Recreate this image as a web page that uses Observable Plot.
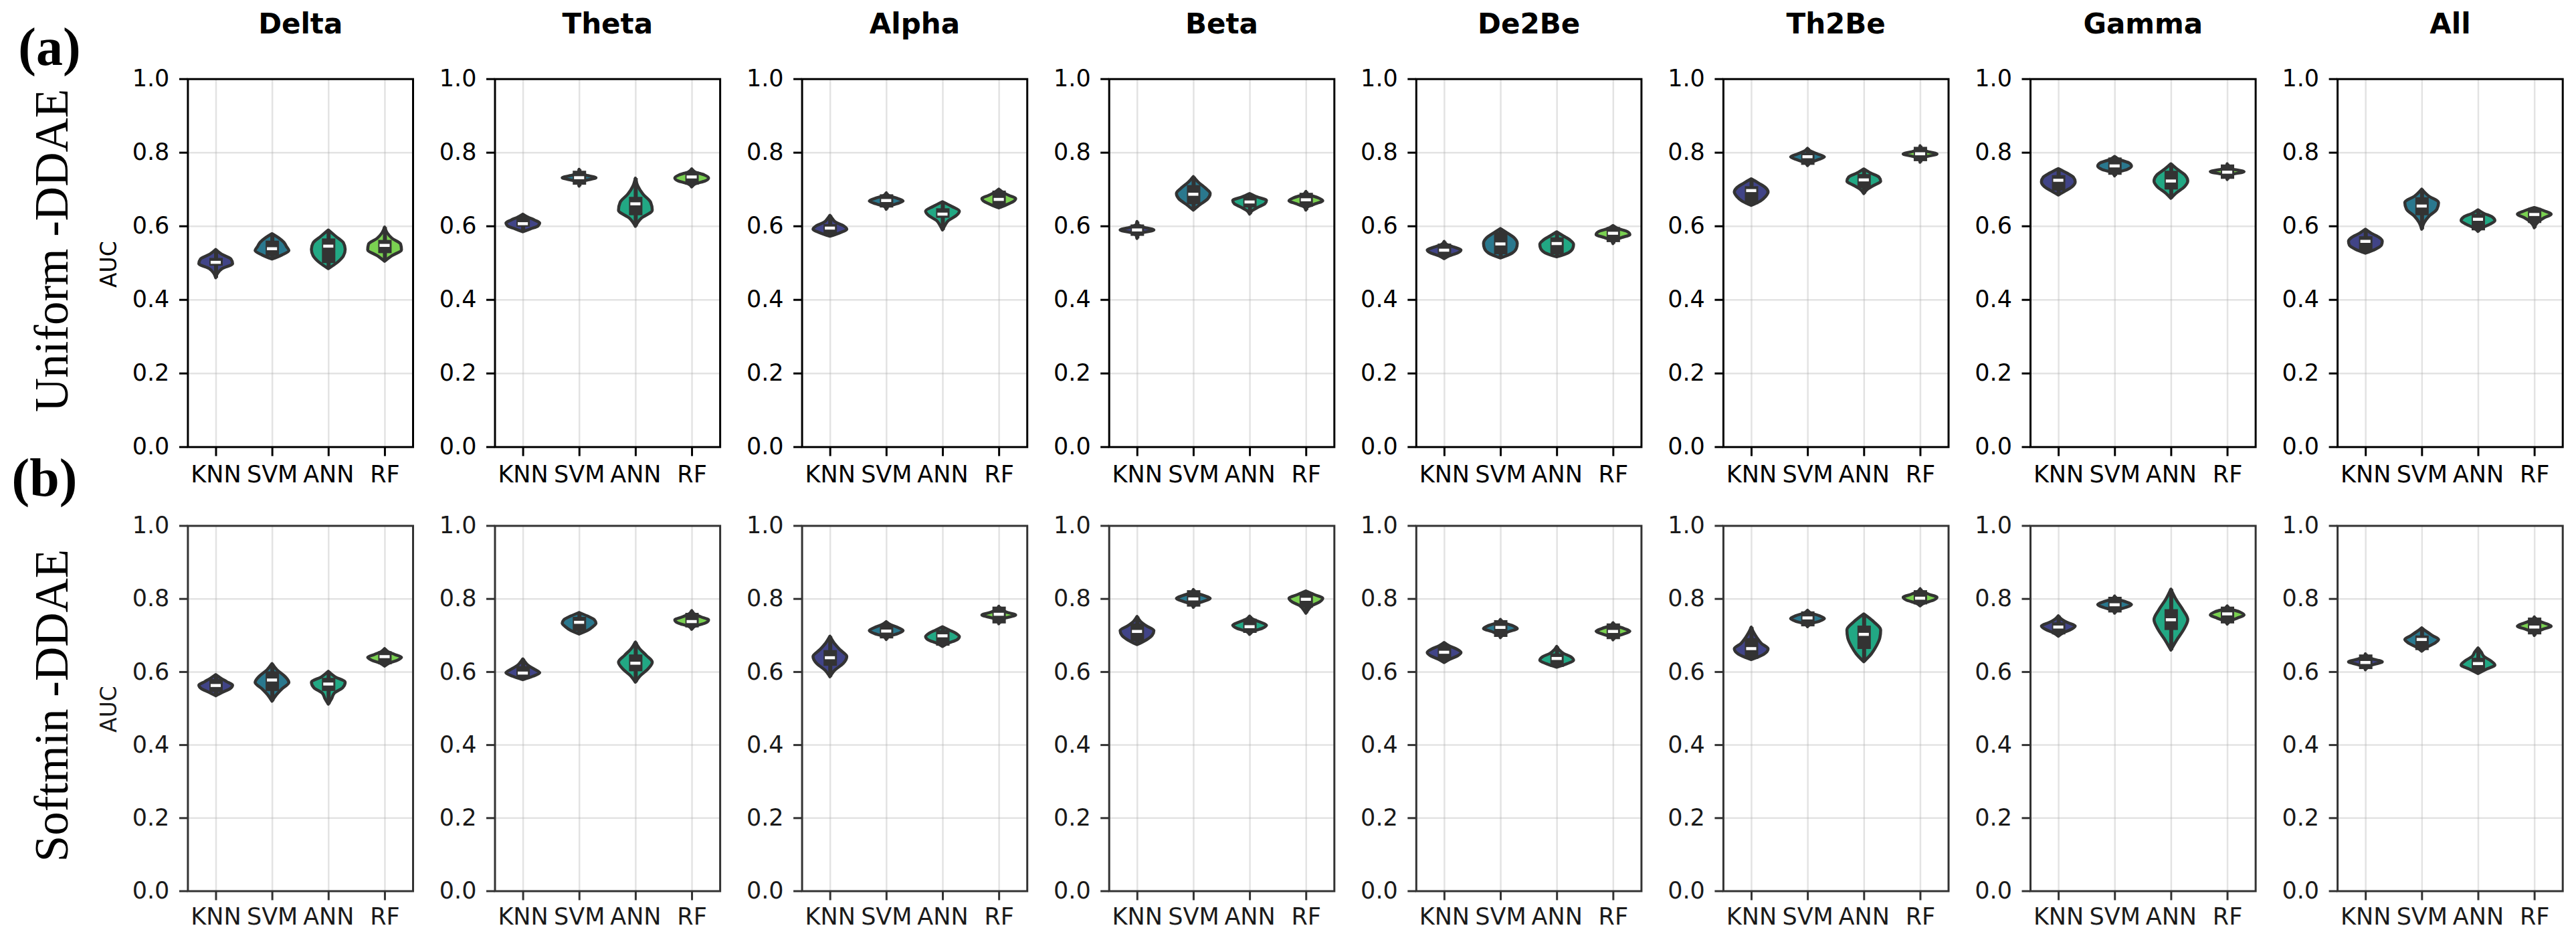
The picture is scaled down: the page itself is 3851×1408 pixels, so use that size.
<!DOCTYPE html>
<html><head><meta charset="utf-8">
<script src="https://cdn.jsdelivr.net/npm/d3@7"></script>
<script src="https://cdn.jsdelivr.net/npm/@observablehq/plot@0.6"></script>
<style>
body{margin:0;background:#fff;}
#chart{width:3851px;height:1408px;overflow:hidden;background:#fff;}
#chart svg{overflow:visible;display:block;}
</style></head><body><div id="chart"></div>
<script>
const bands = ["Delta","Theta","Alpha","Beta","De2Be","Th2Be","Gamma","All"];
const models = ["KNN","SVM","ANN","RF"];
const yTicks = [0, 0.2, 0.4, 0.6, 0.8, 1.0];

// (a) Uniform-DDAE : violin extent, median, quartiles, width profile
const uniformLo = [[0.459,0.510,0.484,0.504],[0.584,0.708,0.599,0.706],[0.572,0.645,0.589,0.649],[0.566,0.643,0.632,0.643],[0.511,0.513,0.516,0.552],[0.656,0.764,0.688,0.773],[0.684,0.736,0.675,0.726],[0.526,0.591,0.585,0.595]];
const uniformHi = [[0.536,0.579,0.589,0.597],[0.632,0.754,0.730,0.755],[0.629,0.690,0.666,0.700],[0.612,0.734,0.688,0.694],[0.558,0.593,0.584,0.601],[0.728,0.811,0.755,0.818],[0.756,0.789,0.769,0.769],[0.591,0.700,0.644,0.650]];
const uniformMed = [[0.502,0.539,0.546,0.548],[0.607,0.732,0.661,0.734],[0.595,0.670,0.633,0.673],[0.590,0.687,0.666,0.672],[0.535,0.552,0.553,0.581],[0.697,0.789,0.726,0.797],[0.725,0.764,0.723,0.747],[0.559,0.655,0.619,0.632]];
const uniformQ1 = [[0.492,0.518,0.499,0.526],[0.598,0.712,0.629,0.712],[0.578,0.650,0.622,0.653],[0.573,0.659,0.650,0.652],[0.516,0.523,0.523,0.556],[0.659,0.766,0.702,0.776],[0.696,0.739,0.699,0.728],[0.529,0.629,0.588,0.608]];
const uniformQ3 = [[0.513,0.560,0.566,0.562],[0.625,0.750,0.679,0.748],[0.605,0.686,0.648,0.696],[0.604,0.711,0.681,0.690],[0.552,0.584,0.569,0.597],[0.708,0.799,0.741,0.815],[0.738,0.786,0.750,0.767],[0.572,0.678,0.633,0.649]];
const uniformShape = [
  [[0.12,0.4,1.0,0.9,0.35],[0.6,1.0,0.85,0.7,0.4],[0.55,0.9,1.0,0.9,0.45],[0.45,1.0,0.95,0.45,0.15]],
  [[0.45,0.9,1.0,0.7,0.3],[0.03,0.35,1.0,0.35,0.03],[0.35,1.0,0.9,0.45,0.15],[0.2,0.8,1.0,0.75,0.2]],
  [[0.6,1.0,0.8,0.35,0.15],[0.1,0.6,1.0,0.65,0.15],[0.15,0.35,0.8,1.0,0.55],[0.45,0.85,1.0,0.6,0.25]],
  [[0.05,0.3,1.0,0.4,0.05],[0.4,0.85,1.0,0.7,0.3],[0.15,0.5,0.9,1.0,0.45],[0.1,0.55,1.0,0.7,0.15]],
  [[0.3,0.8,1.0,0.6,0.15],[0.7,0.95,1.0,0.85,0.45],[0.7,0.95,1.0,0.8,0.4],[0.1,0.5,1.0,0.85,0.3]],
  [[0.55,0.85,1.0,0.85,0.45],[0.15,0.6,1.0,0.6,0.2],[0.2,0.6,1.0,0.9,0.4],[0.05,0.35,1.0,0.4,0.05]],
  [[0.45,0.85,1.0,0.9,0.5],[0.15,0.75,1.0,0.85,0.3],[0.35,0.8,1.0,0.85,0.4],[0.03,0.3,1.0,0.3,0.03]],
  [[0.6,0.95,1.0,0.8,0.35],[0.15,0.45,0.9,1.0,0.4],[0.25,0.7,1.0,0.85,0.35],[0.1,0.3,0.6,1.0,0.6]]
];

// (b) Softmin-DDAE
const softLo = [[0.534,0.519,0.511,0.615],[0.578,0.703,0.571,0.716],[0.586,0.688,0.669,0.731],[0.674,0.776,0.702,0.760],[0.625,0.693,0.612,0.687],[0.633,0.723,0.627,0.780],[0.697,0.760,0.659,0.730],[0.605,0.656,0.595,0.699]];
const softHi = [[0.592,0.622,0.601,0.663],[0.635,0.762,0.681,0.767],[0.697,0.737,0.723,0.779],[0.751,0.825,0.752,0.821],[0.680,0.743,0.669,0.734],[0.722,0.768,0.758,0.827],[0.753,0.807,0.826,0.780],[0.649,0.720,0.665,0.750]];
const softMed = [[0.563,0.578,0.567,0.642],[0.597,0.736,0.624,0.738],[0.639,0.712,0.699,0.758],[0.711,0.800,0.724,0.799],[0.654,0.722,0.637,0.711],[0.664,0.748,0.703,0.802],[0.723,0.784,0.743,0.759],[0.626,0.689,0.623,0.723]];
const softQ1 = [[0.544,0.547,0.547,0.620],[0.580,0.711,0.601,0.721],[0.616,0.691,0.671,0.732],[0.683,0.778,0.706,0.775],[0.632,0.695,0.613,0.689],[0.635,0.724,0.662,0.784],[0.702,0.762,0.714,0.732],[0.607,0.659,0.600,0.702]];
const softQ3 = [[0.580,0.601,0.583,0.656],[0.615,0.750,0.647,0.761],[0.659,0.730,0.714,0.778],[0.732,0.823,0.745,0.817],[0.672,0.741,0.650,0.732],[0.692,0.765,0.726,0.823],[0.735,0.805,0.771,0.778],[0.647,0.699,0.638,0.748]];
const softShape = [
  [[0.4,0.85,1.0,0.65,0.3],[0.25,0.6,1.0,0.75,0.3],[0.2,0.35,0.85,1.0,0.4],[0.25,0.75,1.0,0.6,0.2]],
  [[0.6,1.0,0.7,0.35,0.15],[0.5,0.8,1.0,0.9,0.5],[0.3,0.75,1.0,0.65,0.25],[0.2,0.8,1.0,0.55,0.15]],
  [[0.3,0.8,1.0,0.6,0.25],[0.15,0.7,1.0,0.7,0.25],[0.35,0.85,1.0,0.8,0.4],[0.05,0.4,1.0,0.45,0.1]],
  [[0.55,0.9,1.0,0.55,0.2],[0.1,0.6,1.0,0.6,0.1],[0.2,0.75,1.0,0.65,0.2],[0.15,0.35,0.8,1.0,0.5]],
  [[0.35,0.8,1.0,0.75,0.3],[0.1,0.5,1.0,0.7,0.15],[0.6,1.0,0.85,0.4,0.15],[0.1,0.6,1.0,0.65,0.15]],
  [[0.75,1.0,0.6,0.35,0.15],[0.15,0.7,1.0,0.7,0.2],[0.45,0.75,0.95,1.0,0.6],[0.25,0.8,1.0,0.55,0.15]],
  [[0.3,0.75,1.0,0.55,0.2],[0.1,0.65,1.0,0.65,0.15],[0.35,0.75,1.0,0.7,0.3],[0.15,0.6,1.0,0.75,0.2]],
  [[0.05,0.5,1.0,0.45,0.05],[0.3,0.75,1.0,0.65,0.3],[0.5,1.0,0.75,0.35,0.2],[0.1,0.5,1.0,0.6,0.15]]
];

const palette = ["#414487","#2a788e","#22a884","#7ad151"];
const HALF = 0.3; // violin half-width in category units

function violinPoints(lo, hi, shape) {
  const rows = [];
  bands.forEach((band, b) => models.forEach((model, m) => {
    const w = [0, ...shape[b][m], 0];
    const a = lo[b][m], z = hi[b][m];
    w.forEach((f, k) => {
      rows.push({band, model, y: a + (z - a) * k / (w.length - 1), xl: m - HALF * f, xr: m + HALF * f});
    });
  }));
  return rows;
}
function boxStats(lo, hi, med, q1, q3) {
  const rows = [];
  bands.forEach((band, b) => models.forEach((model, m) => {
    rows.push({band, model, mi: m, lo: lo[b][m], hi: hi[b][m], med: med[b][m], q1: q1[b][m], q3: q3[b][m]});
  }));
  return rows;
}

function row(cfg) {
  const shapes = violinPoints(cfg.lo, cfg.hi, cfg.shape);
  const stats = boxStats(cfg.lo, cfg.hi, cfg.med, cfg.q1, cfg.q3);
  const first = bands[0];
  const marks = [
    Plot.gridY([0.2, 0.4, 0.6, 0.8], {stroke: "#b0b0b0", strokeOpacity: 0.35, strokeWidth: 2.5}),
    Plot.gridX([0, 1, 2, 3], {stroke: "#b0b0b0", strokeOpacity: 0.35, strokeWidth: 2.5}),
    Plot.areaX(shapes, {fx: "band", y: "y", x1: "xl", x2: "xr", z: "model", fill: "model",
      stroke: "#333333", strokeWidth: 4.5, strokeLinejoin: "round", curve: "monotone-y"}),
    Plot.ruleX(stats, {fx: "band", x: "mi", y1: "lo", y2: "hi", stroke: "#333333", strokeWidth: 6}),
    Plot.ruleX(stats, {fx: "band", x: "mi", y1: "q1", y2: "q3", stroke: "#333333", strokeWidth: 20}),
    Plot.ruleY(stats, {fx: "band", y: "med", x1: d => d.mi - 0.09, x2: d => d.mi + 0.09, stroke: "white", strokeWidth: 4.5}),
    Plot.frame({stroke: cfg.frame, strokeWidth: 3}),
    Plot.axisY({ticks: yTicks, tickFormat: d3.format(".1f"), facetAnchor: null, tickSize: 12.5, tickPadding: 15,
      fontSize: 35, strokeWidth: 3, stroke: cfg.frame, fill: cfg.text, label: null}),
    Plot.axisX({ticks: [0, 1, 2, 3], tickFormat: i => models[i], tickSize: 14, tickPadding: cfg.xPad,
      fontSize: 35, strokeWidth: 3, stroke: cfg.frame, fill: cfg.text, label: null}),
    Plot.text([{band: first, t: "AUC"}], {fx: "band", text: "t", frameAnchor: "left", textAnchor: "middle",
      dx: -117, dy: cfg.aucDy, rotate: -90, fontSize: 33, fill: cfg.text}),
    Plot.text([{band: first, t: cfg.label}], {fx: "band", text: "t", frameAnchor: "left", textAnchor: "middle",
      dx: -202.7, dy: cfg.labelDy, rotate: -90, fontSize: 71, fontFamily: "Liberation Serif", fill: "#000"})
  ];
  if (cfg.titles) {
    marks.push(Plot.text(bands, {fx: d => d, text: d => d, frameAnchor: "top", textAnchor: "middle", lineAnchor: "bottom", dy: -68,
      fontSize: 42, fontWeight: "bold", fill: "#000"}));
  }
  for (const l of cfg.letters) {
    marks.push(Plot.text([{band: first, t: l.t}], {fx: "band", text: "t", frameAnchor: l.anchor, textAnchor: "middle",
      lineAnchor: "bottom", dx: l.dx, dy: l.dy, fontSize: 80, fontWeight: "bold", fontFamily: "Liberation Serif", fill: "#000"}));
  }
  return Plot.plot({
    width: 3851, height: cfg.height,
    marginLeft: 280.4, marginRight: 20.3, marginTop: cfg.mt, marginBottom: cfg.mb,
    style: {fontFamily: "DejaVu Sans", background: "transparent", overflow: "visible"},
    facet: {marginTop: 0, marginRight: 0, marginBottom: 0, marginLeft: 0},
    fx: {domain: bands, paddingInner: 0.2668, paddingOuter: 0, axis: null, round: false},
    x: {domain: [-0.5, 3.5], axis: null},
    y: {domain: [0, 1], axis: null},
    color: {domain: models, range: palette},
    marks
  });
}

const chart = document.getElementById("chart");
chart.append(row({
  lo: uniformLo, hi: uniformHi, med: uniformMed, q1: uniformQ1, q3: uniformQ3, shape: uniformShape,
  height: 760, mt: 117.7, mb: 92.3, frame: "#000", text: "#000", xPad: 14,
  label: "Uniform -DDAE", labelDy: -18.7, aucDy: 2, titles: true,
  letters: [{t: "(a)", anchor: "top-left", dx: -206.9, dy: -21.7}, {t: "(b)", anchor: "bottom-left", dx: -214.4, dy: 72.3}]
}));
chart.append(row({
  lo: softLo, hi: softHi, med: softMed, q1: softQ1, q3: softQ3, shape: softShape,
  height: 648, mt: 25.5, mb: 76.5, frame: "#333333", text: "#1a1a1a", xPad: 11,
  label: "Softmin -DDAE", labelDy: -4.5, aucDy: 1, titles: false, letters: []
}));
</script></body></html>
